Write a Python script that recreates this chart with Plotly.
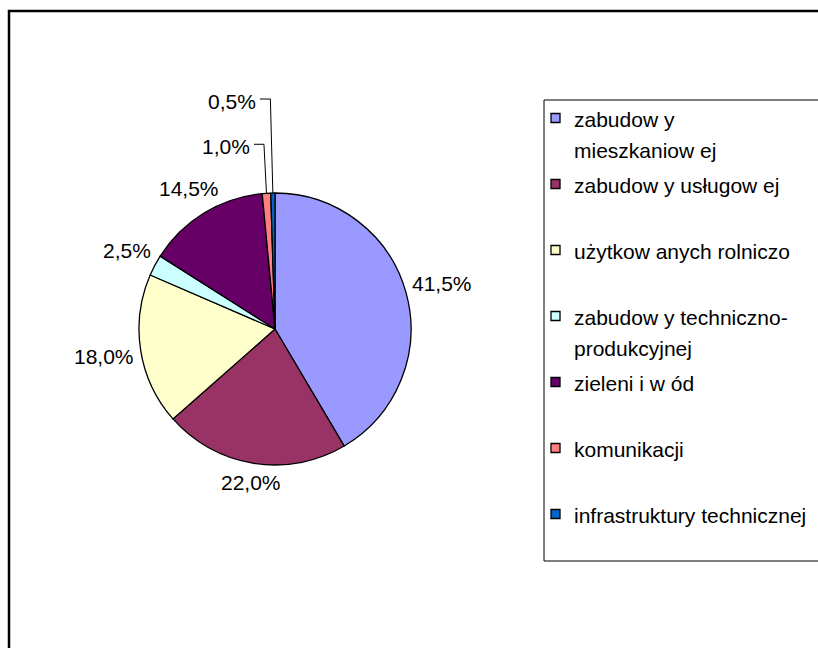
import math
import plotly.graph_objects as go

# ---- data ----
categories = [
    "zabudow y\nmieszkaniow ej",
    "zabudow y usługow ej",
    "użytkow anych rolniczo",
    "zabudow y techniczno-\nprodukcyjnej",
    "zieleni i w ód",
    "komunikacji",
    "infrastruktury technicznej",
]
values = [41.5, 22.0, 18.0, 2.5, 14.5, 1.0, 0.5]
colors = ["#9999FF", "#993366", "#FFFFCC", "#CCFFFF", "#660066", "#FF8080", "#0066CC"]

# ---- layout constants (pixels) ----
W, H = 818, 648
PIE_X0, PIE_X1 = 139, 411
PIE_Y0, PIE_Y1 = 193, 465  # top, bottom in screen px
LABEL_GAP = 6.5
LABEL_FONT = 21
LEGEND_FONT = 21
CHAR_W = 0.567  # approx average em width of digits/% for box estimate
# callout offsets (px) for the tiny slices, relative to the slice's rim point
CALLOUTS = {5: (-14.5, -47), 6: (-15, -92)}


def X(px):
    return px / W


def Y(py):
    return 1 - py / H


cx = (PIE_X0 + PIE_X1) / 2
cy = (PIE_Y0 + PIE_Y1) / 2
r = (PIE_X1 - PIE_X0) / 2

fig = go.Figure()
fig.add_trace(go.Pie(
    labels=[c.replace("\n", " ") for c in categories],
    values=values,
    marker=dict(colors=colors, line=dict(color="black", width=1.3)),
    sort=False,
    direction="clockwise",
    rotation=0,
    textinfo="none",
    hoverinfo="label+percent",
    showlegend=False,
    domain=dict(x=[X(PIE_X0), X(PIE_X1)], y=[Y(PIE_Y1), Y(PIE_Y0)]),
))

annotations = []
shapes = []

# outer frame (only left/top visible)
shapes.append(dict(type="rect", xref="paper", yref="paper",
                   x0=X(9), x1=1.05, y0=-0.05, y1=Y(11),
                   line=dict(color="black", width=2.5), layer="above"))

total = sum(values)
cum = 0.0
for i, v in enumerate(values):
    th = 2 * math.pi * (cum + v / 2) / total
    cum += v
    pct = v / total * 100
    txt = f"{pct:.1f}".replace(".", ",") + "%"
    ux, uy = math.sin(th), -math.cos(th)
    if i in CALLOUTS:
        ex, ey = cx + r * ux, cy + r * uy
        dx, dy = CALLOUTS[i]
        ax, ay = ex + dx, ey + dy
        annotations.append(dict(x=X(ax), y=Y(ay), xref="paper", yref="paper",
                                text=txt, showarrow=False, xanchor="right",
                                yanchor="middle",
                                font=dict(size=LABEL_FONT, color="black",
                                          family="Liberation Sans, Arial")))
        vx = ex - 2.5
        hy = ay - 2
        path = f"M {X(ex)},{Y(ey)} L {X(vx)},{Y(hy)} L {X(ax + 2)},{Y(hy)}"
        shapes.append(dict(type="path", xref="paper", yref="paper", path=path,
                           line=dict(color="black", width=1)))
    else:
        w = len(txt) * CHAR_W * LABEL_FONT
        h = 16
        support = abs(ux) * w / 2 + abs(uy) * h / 2
        d = r + LABEL_GAP + support
        lx, ly = cx + d * ux, cy + d * uy
        annotations.append(dict(x=X(lx), y=Y(ly), xref="paper", yref="paper",
                                text=txt, showarrow=False, xanchor="center",
                                yanchor="middle",
                                font=dict(size=LABEL_FONT, color="black",
                                          family="Liberation Sans, Arial")))

# legend box
LEG_X0, LEG_Y0, LEG_Y1 = 544, 100, 561
SW_X0, SW_SIZE = 551, 9
TXT_X = 572
ENTRY_Y0, ENTRY_STEP, LINE_STEP = 118, 66, 31
shapes.append(dict(type="rect", xref="paper", yref="paper",
                   x0=X(LEG_X0), x1=1.05, y0=Y(LEG_Y1), y1=Y(LEG_Y0),
                   line=dict(color="black", width=1)))
for i, (lab, col) in enumerate(zip(categories, colors)):
    yc = ENTRY_Y0 + i * ENTRY_STEP
    shapes.append(dict(type="rect", xref="paper", yref="paper",
                       x0=X(SW_X0), x1=X(SW_X0 + SW_SIZE),
                       y0=Y(yc + SW_SIZE / 2), y1=Y(yc - SW_SIZE / 2),
                       fillcolor=col, line=dict(color="black", width=1.3)))
    for j, line in enumerate(lab.split("\n")):
        annotations.append(dict(x=X(TXT_X), y=Y(yc + 1 + j * LINE_STEP),
                                xref="paper", yref="paper", text=line,
                                showarrow=False, xanchor="left", yanchor="middle",
                                font=dict(size=LEGEND_FONT, color="black",
                                          family="Liberation Sans, Arial")))

fig.update_layout(
    width=W, height=H,
    margin=dict(l=0, r=0, t=0, b=0),
    paper_bgcolor="white", plot_bgcolor="white",
    annotations=annotations, shapes=shapes,
    showlegend=False,
)

fig.write_html(
    "out.html",
    config={"displayModeBar": False},
    post_script="document.body.style.margin='0';document.body.style.overflow='hidden';",
)
